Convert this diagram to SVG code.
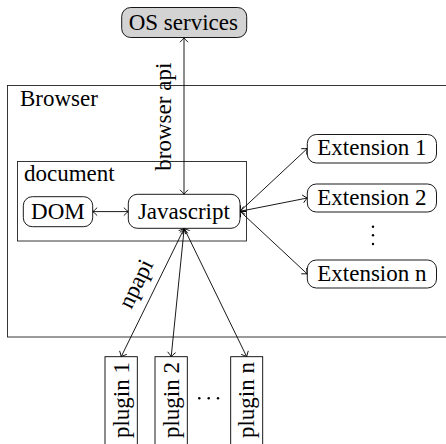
<svg xmlns="http://www.w3.org/2000/svg" width="446" height="444" viewBox="0 0 446 444" font-family="'Liberation Serif', 'Times New Roman', serif">
  <style>
    .t { font-family: "Liberation Serif", "Times New Roman", serif; font-size: 23px; fill: #000; }
    .m { text-anchor: middle; }
    .box { fill: #fff; stroke: #000; stroke-width: 0.9; }
    .frame { fill: none; stroke: #222; stroke-width: 0.9; }
    .os { fill: #d3d3d3; stroke: #000; stroke-width: 0.9; }
    .edge { fill: none; stroke: #000; stroke-width: 0.9; marker-start: url(#tip); marker-end: url(#tip); }
  </style>
  <defs>
    <!-- thin open arrow tip, used at both ends of every connector -->
    <marker id="tip" markerUnits="userSpaceOnUse" viewBox="-6 -5 7 10" refX="0" refY="0" markerWidth="7" markerHeight="10" orient="auto-start-reverse" overflow="visible">
      <path d="M-4.5,-4 Q-1.6,-1 0,0 Q-1.6,1 -4.5,4" fill="none" stroke="#000" stroke-width="0.9"/>
    </marker>
  </defs>

  <!-- containers -->
  <g id="browser">
    <rect class="frame" x="7.5" y="85.5" width="460" height="251.5"/>
    <text class="t" x="20" y="106">Browser</text>
  </g>
  <g id="document">
    <rect class="frame" x="17.5" y="161.5" width="229" height="79.5"/>
    <text class="t" x="24" y="181">document</text>
  </g>

  <!-- connectors -->
  <g id="connectors">
    <line class="edge" x1="184" y1="37.7" x2="184" y2="194.3"/>
    <line class="edge" x1="92.7" y1="211.6" x2="128.3" y2="211.6"/>
    <line class="edge" x1="240" y1="211.3" x2="307.3" y2="148.5"/>
    <line class="edge" x1="240" y1="211.3" x2="307.3" y2="198"/>
    <line class="edge" x1="240" y1="211.3" x2="307.3" y2="274"/>
    <line class="edge" x1="184.2" y1="228.4" x2="121.2" y2="356.7"/>
    <line class="edge" x1="184.2" y1="228.4" x2="171.2" y2="356.7"/>
    <line class="edge" x1="184.2" y1="228.4" x2="246.7" y2="356.7"/>
    <text class="t m" x="171" y="116.7" transform="rotate(-90 171 116.7)">browser api</text>
    <text class="t m" x="142.5" y="287" transform="rotate(-63.8 142.5 287)">npapi</text>
  </g>

  <!-- nodes -->
  <g id="os-services">
    <rect class="os" x="121.7" y="7.5" width="125" height="30" rx="9" ry="9"/>
    <text class="t m" x="183.3" y="30">OS services</text>
  </g>
  <g id="dom">
    <rect class="box" x="23.3" y="196.7" width="69.4" height="30" rx="9" ry="9"/>
    <text class="t m" x="57.9" y="219">DOM</text>
  </g>
  <g id="javascript">
    <rect class="box" x="128.3" y="194.3" width="111.7" height="34" rx="9" ry="9"/>
    <text class="t m" x="183.9" y="219">Javascript</text>
  </g>
  <g id="extension-1">
    <rect class="box" x="307.3" y="134.5" width="129.2" height="28.5" rx="9" ry="9"/>
    <text class="t m" x="371.9" y="155">Extension 1</text>
  </g>
  <g id="extension-2">
    <rect class="box" x="307.3" y="184" width="129.2" height="28" rx="9" ry="9"/>
    <text class="t m" x="371.9" y="205">Extension 2</text>
  </g>
  <g id="extension-dots">
    <circle cx="373" cy="226.7" r="1.2"/>
    <circle cx="373" cy="235.3" r="1.2"/>
    <circle cx="373" cy="244" r="1.2"/>
  </g>
  <g id="extension-n">
    <rect class="box" x="307.3" y="260" width="129.2" height="28" rx="9" ry="9"/>
    <text class="t m" x="371.9" y="281">Extension n</text>
  </g>
  <g id="plugin-1">
    <rect class="box" x="105" y="356.7" width="32.3" height="100"/>
    <text class="t m" x="128.5" y="400" transform="rotate(-90 128.5 400)">plugin 1</text>
  </g>
  <g id="plugin-2">
    <rect class="box" x="155" y="356.7" width="32.3" height="100"/>
    <text class="t m" x="178.5" y="400" transform="rotate(-90 178.5 400)">plugin 2</text>
  </g>
  <g id="plugin-dots">
    <circle cx="199.3" cy="398.3" r="1.2"/>
    <circle cx="208.7" cy="398.3" r="1.2"/>
    <circle cx="218" cy="398.3" r="1.2"/>
  </g>
  <g id="plugin-n">
    <rect class="box" x="230.7" y="356.7" width="32" height="100"/>
    <text class="t m" x="254" y="400" transform="rotate(-90 254 400)">plugin n</text>
  </g>
</svg>
